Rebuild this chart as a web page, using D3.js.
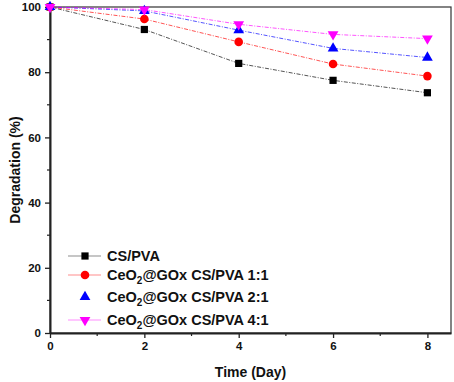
<!DOCTYPE html>
<html>
<head>
<meta charset="utf-8">
<script src="https://d3js.org/d3.v7.min.js"></script>
<style>
  body { margin: 0; background: #fff; }
  text { font-family: Arial, "Liberation Sans", sans-serif; font-weight: bold; }
</style>
</head>
<body>
<div id="chart"></div>
<script>
// data
var days = [0, 2, 4, 6, 8];
var csPva   = [100, 93.1, 82.7, 77.5, 73.7];
var ratio11 = [100, 96.3, 89.3, 82.5, 78.8];
var ratio21 = [100, 98.8, 92.9, 87.3, 84.5];
var ratio41 = [100, 99.2, 94.7, 91.6, 90.3];
var xTicks = [0, 2, 4, 6, 8];
var yTicks = [0, 20, 40, 60, 80, 100];

var series = [
  { name: "CS/PVA", sub: false, tail: "", vals: csPva, color: "#000000", sym: d3.symbolSquare, size: 52, rot: 0, legendLine: true },
  { name: "CeO", sub: true, tail: "@GOx CS/PVA 1:1", vals: ratio11, color: "#ff0000", sym: d3.symbolCircle, size: 58, rot: 0, legendLine: true },
  { name: "CeO", sub: true, tail: "@GOx CS/PVA 2:1", vals: ratio21, color: "#0000ff", sym: d3.symbolTriangle, size: 50, rot: 0, legendLine: false },
  { name: "CeO", sub: true, tail: "@GOx CS/PVA 4:1", vals: ratio41, color: "#ff00ff", sym: d3.symbolTriangle, size: 50, rot: 180, legendLine: true }
];

var width = 454, height = 382;
var margin = { left: 50, top: 7, right: 3, bottom: 49 };

var svg = d3.select("#chart").append("svg")
  .attr("width", width)
  .attr("height", height);

var x = d3.scaleLinear().domain([0, 8.5]).range([margin.left, width - margin.right]);
var y = d3.scaleLinear().domain([0, 100]).range([height - margin.bottom, margin.top]);

// frame
svg.append("rect")
  .attr("x", x(0)).attr("y", y(100))
  .attr("width", x(8.5) - x(0)).attr("height", y(0) - y(100))
  .attr("fill", "none").attr("stroke", "#333").attr("stroke-width", 1.2);

// minor ticks
var xMinor = [1, 3, 5, 7];
var yMinor = [10, 30, 50, 70, 90];
svg.selectAll(".xminor").data(xMinor).enter().append("line")
  .attr("x1", function(d) { return x(d); }).attr("x2", function(d) { return x(d); })
  .attr("y1", y(0)).attr("y2", y(0) + 3)
  .attr("stroke", "#222").attr("stroke-width", 1.2);
svg.selectAll(".yminor").data(yMinor).enter().append("line")
  .attr("y1", function(d) { return y(d); }).attr("y2", function(d) { return y(d); })
  .attr("x1", x(0)).attr("x2", x(0) - 3)
  .attr("stroke", "#222").attr("stroke-width", 1.2);

// axes
var xAxis = svg.append("g")
  .attr("transform", "translate(0," + y(0) + ")")
  .call(d3.axisBottom(x).tickValues(xTicks).tickSize(5).tickSizeOuter(0).tickPadding(4));
var yAxis = svg.append("g")
  .attr("transform", "translate(" + x(0) + ",0)")
  .call(d3.axisLeft(y).tickValues(yTicks).tickSize(5).tickSizeOuter(0).tickPadding(4));

[xAxis, yAxis].forEach(function(a) {
  a.select(".domain").attr("stroke", "#222").attr("stroke-width", 2);
  a.selectAll(".tick line").attr("stroke", "#222").attr("stroke-width", 1.3);
  a.selectAll(".tick text").attr("font-size", "11.5px").attr("font-weight", "bold")
    .attr("font-family", "Arial, 'Liberation Sans', sans-serif").attr("fill", "#111");
});

// axis titles
svg.append("text")
  .attr("x", x(4.25)).attr("y", 377)
  .attr("text-anchor", "middle").attr("font-size", "14px").attr("fill", "#111")
  .text("Time (Day)");
svg.append("text")
  .attr("transform", "translate(20," + y(50) + ") rotate(-90)")
  .attr("text-anchor", "middle").attr("font-size", "14px").attr("fill", "#111")
  .text("Degradation (%)");

// lines + markers
var line = d3.line()
  .x(function(d, i) { return x(days[i]); })
  .y(function(d) { return y(d); });

series.forEach(function(s) {
  svg.append("path")
    .datum(s.vals)
    .attr("d", line)
    .attr("fill", "none")
    .attr("stroke", s.color)
    .attr("stroke-opacity", 0.75)
    .attr("stroke-width", 0.9)
    .attr("stroke-dasharray", "4,1.5,1,1.5");
  svg.selectAll(null).data(s.vals).enter().append("path")
    .attr("d", d3.symbol().type(s.sym).size(s.size))
    .attr("transform", function(d, i) { return "translate(" + x(days[i]) + "," + y(d) + ") rotate(" + s.rot + ")"; })
    .attr("fill", s.color);
});

// legend
var legendY = [256, 275, 297, 320];
series.forEach(function(s, i) {
  var g = svg.append("g").attr("transform", "translate(0," + legendY[i] + ")");
  if (s.legendLine) {
    g.append("line").attr("x1", 68).attr("x2", 101).attr("y1", 0).attr("y2", 0)
      .attr("stroke", s.color).attr("stroke-opacity", 0.45).attr("stroke-width", 1.2);
  }
  g.append("path")
    .attr("d", d3.symbol().type(s.sym).size(s.size))
    .attr("transform", "translate(85,0) rotate(" + s.rot + ")")
    .attr("fill", s.color);
  var t = g.append("text").attr("x", 107).attr("y", 5).attr("font-size", "14.5px").attr("fill", "#111");
  t.append("tspan").text(s.name);
  if (s.sub) {
    t.append("tspan").attr("dy", 4).attr("font-size", "10px").text("2");
    t.append("tspan").attr("dy", -4).text(s.tail);
  }
});
</script>
</body>
</html>
